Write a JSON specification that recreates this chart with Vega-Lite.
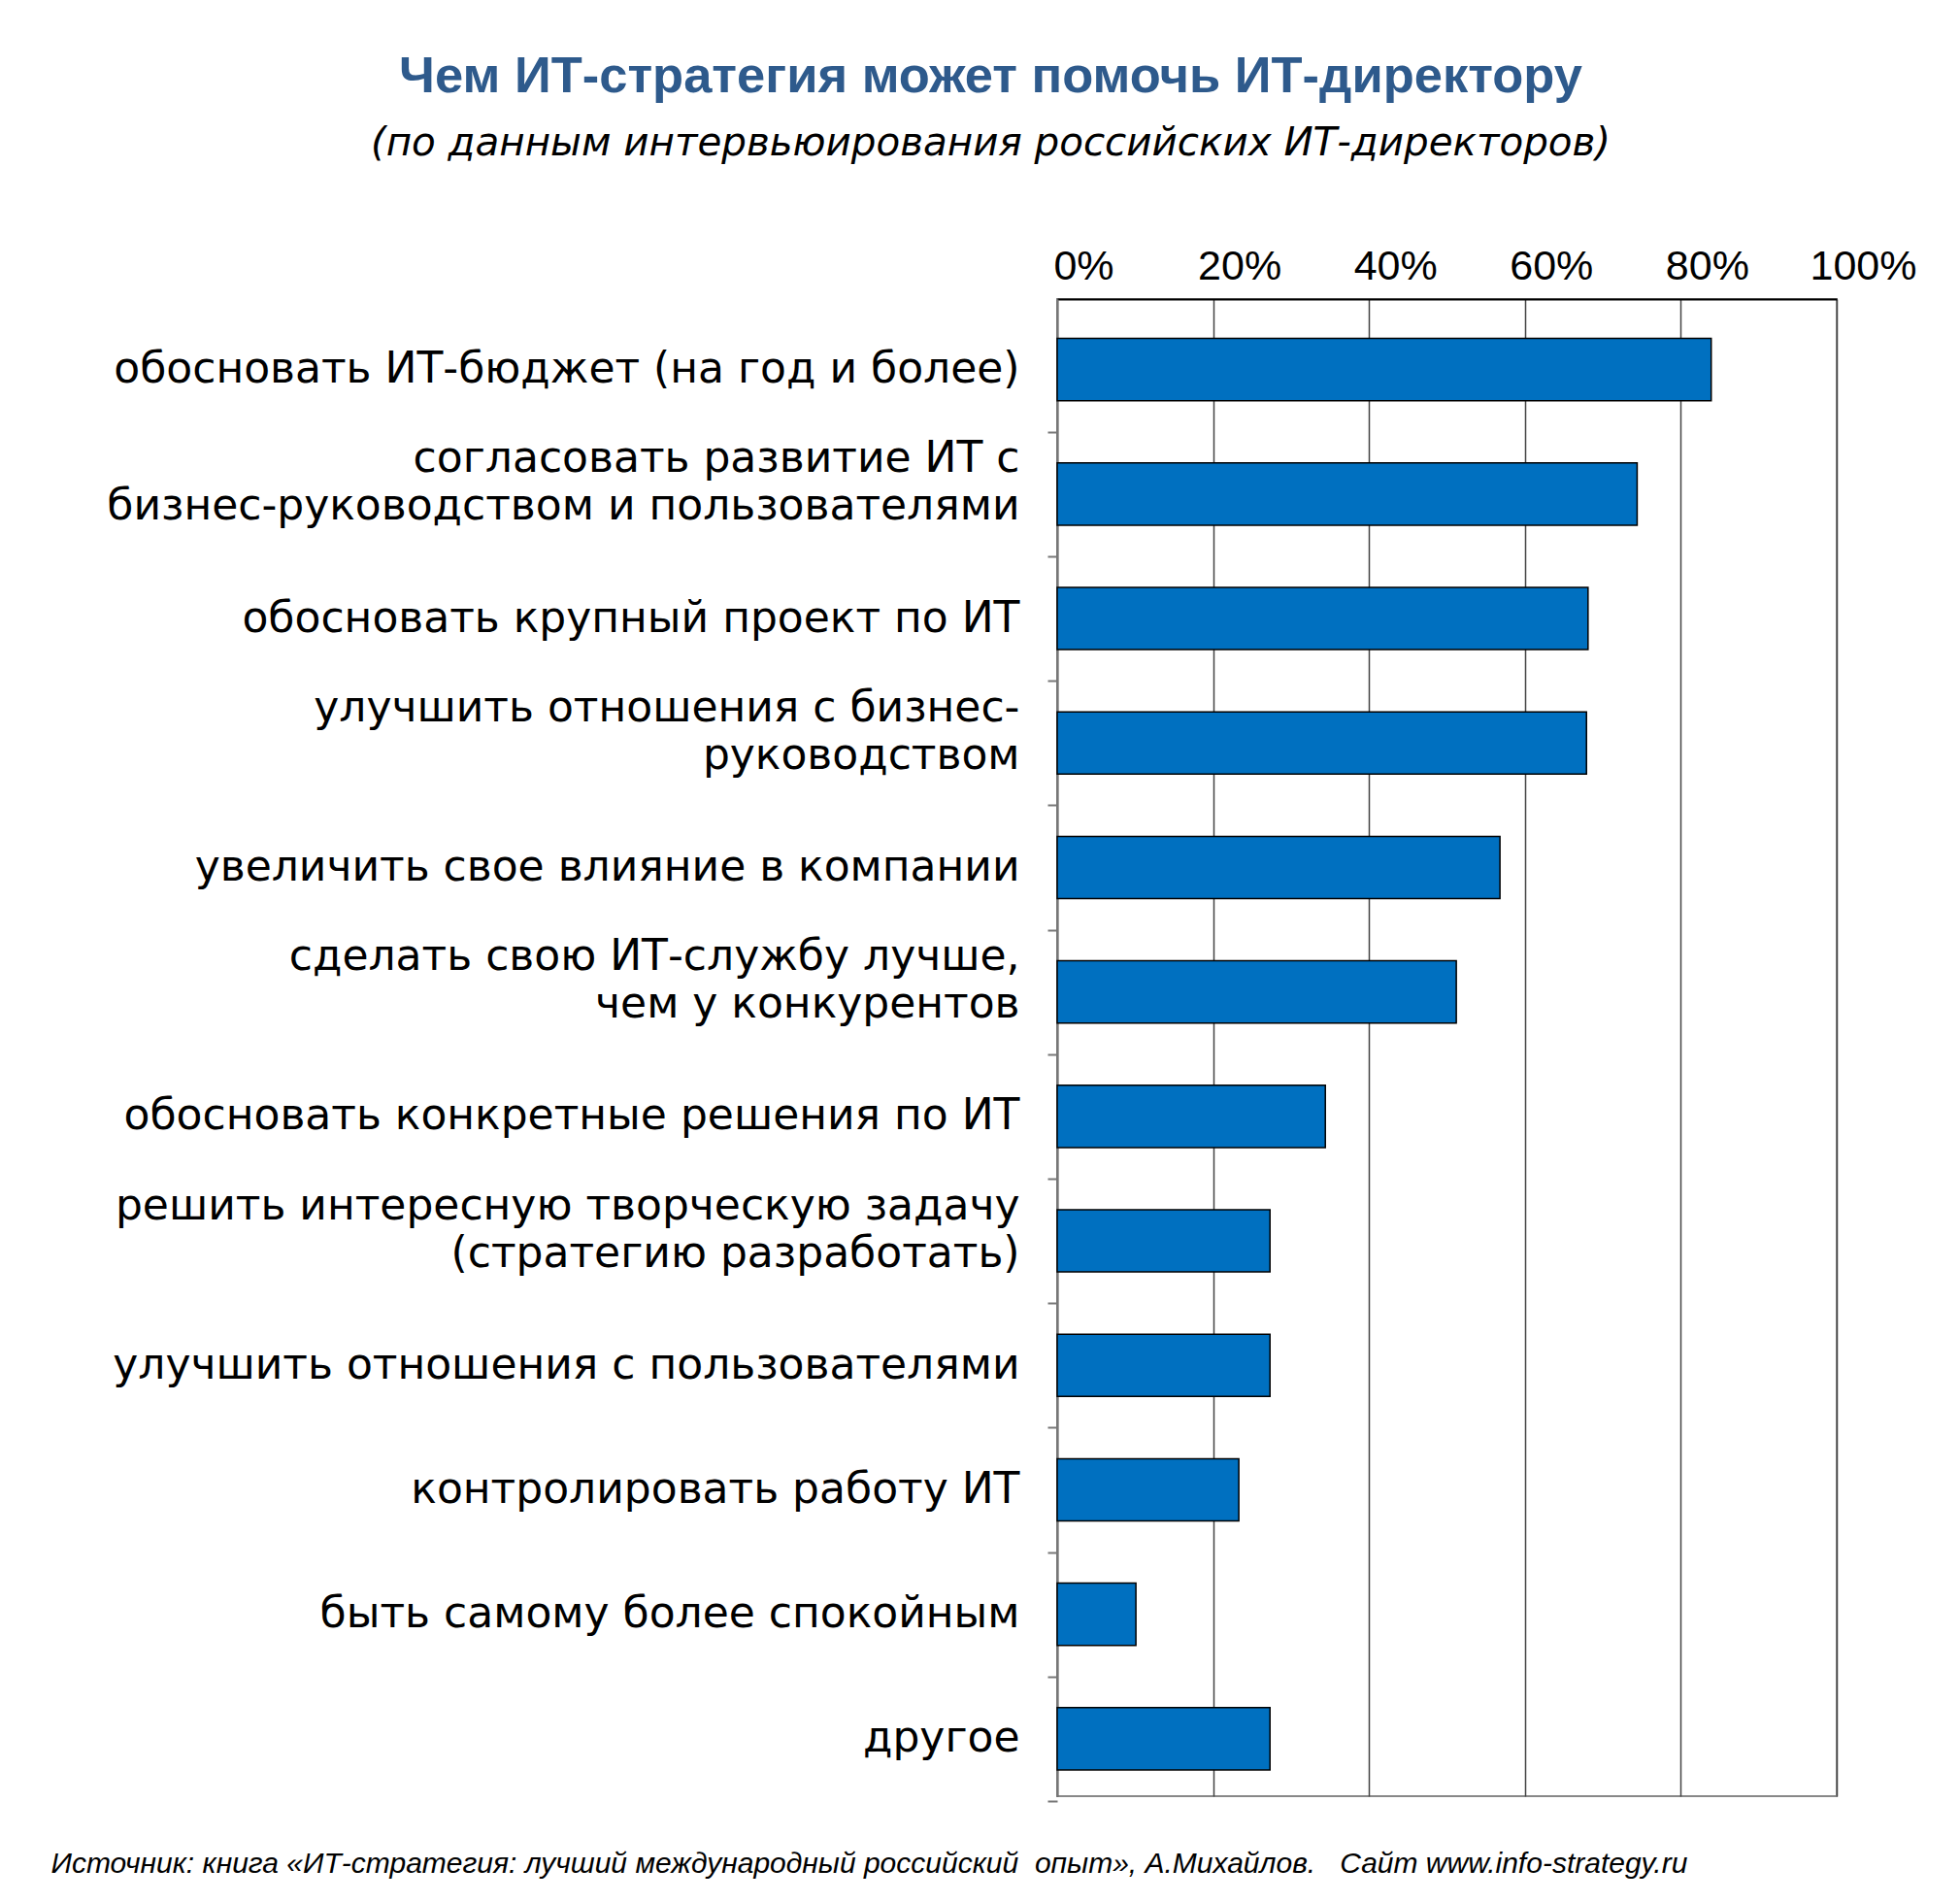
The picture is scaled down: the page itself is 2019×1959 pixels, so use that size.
{
  "$schema": "https://vega.github.io/schema/vega-lite/v6.json",
  "autosize": {"type": "none"},
  "width": 803,
  "height": 1542,
  "padding": {"left": 1089, "top": 308, "right": 127, "bottom": 109},
  "background": "white",
  "config": {
    "font": "Liberation Sans",
    "view": {"stroke": "#888888", "strokeWidth": 2}
  },
  "title": {
    "text": "Чем ИТ-стратегия может помочь ИТ-директору",
    "subtitle": "(по данным интервьюирования российских ИТ-директоров)",
    "anchor": "middle",
    "frame": "group",
    "dx": -470,
    "offset": 84,
    "font": "Liberation Sans",
    "fontSize": 52.5,
    "fontWeight": "bold",
    "color": "#2E5A8C",
    "subtitleFont": "DejaVu Sans",
    "subtitleFontSize": 40.4,
    "subtitleFontStyle": "italic",
    "subtitleColor": "#000000",
    "subtitlePadding": 21
  },
  "data": {
    "values": [
      {"item": "обосновать ИТ-бюджет (на год и более)", "share": 0.839},
      {"item": "согласовать развитие ИТ с|бизнес-руководством и пользователями", "share": 0.744},
      {"item": "обосновать крупный проект по ИТ", "share": 0.681},
      {"item": "улучшить отношения с бизнес-|руководством", "share": 0.679},
      {"item": "увеличить свое влияние в компании", "share": 0.568},
      {"item": "сделать свою ИТ-службу лучше,|чем у конкурентов", "share": 0.512},
      {"item": "обосновать конкретные решения по ИТ", "share": 0.344},
      {"item": "решить интересную творческую задачу|(стратегию разработать)", "share": 0.273},
      {"item": "улучшить отношения с пользователями", "share": 0.273},
      {"item": "контролировать работу ИТ", "share": 0.233},
      {"item": "быть самому более спокойным", "share": 0.101},
      {"item": "другое", "share": 0.273}
    ]
  },
  "mark": {"type": "bar", "color": "#0070C0", "stroke": "#000000", "strokeWidth": 1.5},
  "encoding": {
    "y": {
      "field": "item",
      "type": "nominal",
      "sort": null,
      "scale": {"paddingInner": 0.5, "paddingOuter": 0.264, "align": 0.6},
      "axis": {
        "title": "Источник: книга «ИТ-стратегия: лучший международный российский\u00a0\u00a0опыт», А.Михайлов.\u00a0\u00a0\u00a0Сайт www.info-strategy.ru",
        "titleAngle": 0,
        "titleAlign": "left",
        "titleBaseline": "alphabetic",
        "titleX": -1037,
        "titleY": 1620,
        "titleFont": "Liberation Sans",
        "titleFontSize": 30,
        "titleFontStyle": "italic",
        "titleFontWeight": "normal",
        "titleColor": "#000000",
        "labelExpr": "split(datum.label, '|')",
        "labelFont": "DejaVu Sans",
        "labelFontSize": 44,
        "labelLineHeight": 49,
        "labelColor": "#000000",
        "labelLimit": 1100,
        "labelPadding": 29,
        "labelAlign": "right",
        "tickOffset": 64.1,
        "labelOffset": {"condition": {"test": "indexof(datum.value, '|') >= 0", "value": -100}, "value": -64.1},
        "tickSize": 10,
        "tickColor": "#777777",
        "tickWidth": 2,
        "domainColor": "#777777",
        "domainWidth": 2,
        "grid": false
      }
    },
    "x": {
      "field": "share",
      "type": "quantitative",
      "scale": {"domain": [0, 1], "nice": false},
      "axis": {
        "orient": "top",
        "title": null,
        "values": [0, 0.2, 0.4, 0.6, 0.8, 1],
        "format": ".0%",
        "labelFont": "Liberation Sans",
        "labelFontSize": 43,
        "labelColor": "#000000",
        "labelOffset": 27,
        "labelFlush": false,
        "labelPadding": 12,
        "ticks": false,
        "domainColor": "#000000",
        "domainWidth": 2,
        "grid": true,
        "gridColor": "#444444",
        "gridWidth": 1.5
      }
    }
  }
}
